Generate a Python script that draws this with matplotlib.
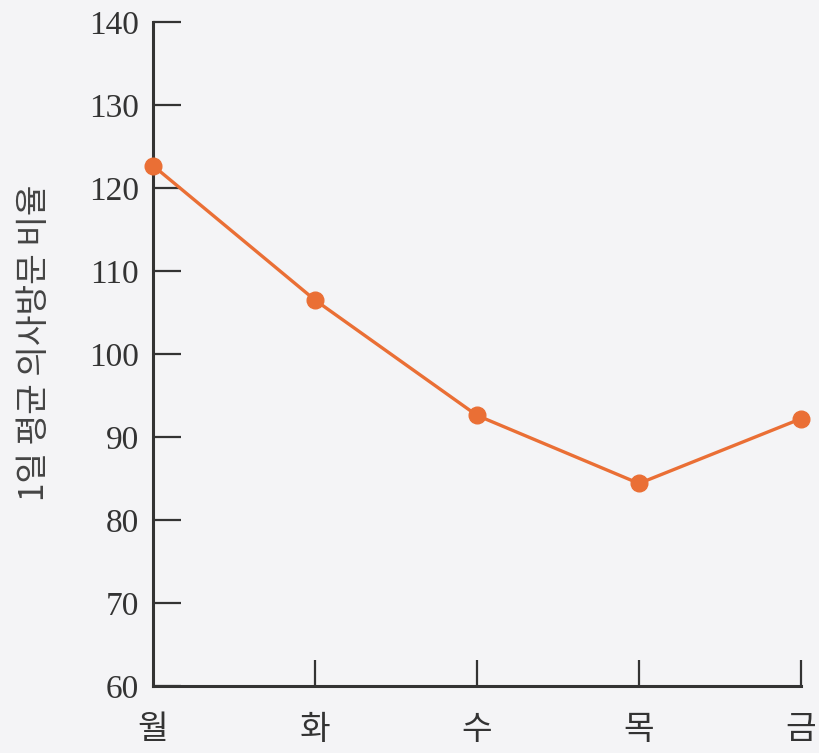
import matplotlib
matplotlib.use("Agg")
import matplotlib.pyplot as plt

# Data.
days = ["월", "화", "수", "목", "금"]
visit_ratio = [122.7, 106.5, 92.6, 84.4, 92.2]
y_ticks = [60, 70, 80, 90, 100, 110, 120, 130, 140]

bg = "#f4f4f6"
ink = "#333333"
orange = "#ea6f35"

plt.rcParams["font.family"] = ["Noto Sans CJK KR", "DejaVu Sans"]

fig = plt.figure(figsize=(8.19, 7.53), dpi=100, facecolor=bg)
ax = fig.add_axes([0.1868, 0.089, 0.7912, 0.8818])
ax.set_facecolor(bg)

x = list(range(len(days)))
ax.plot(x, visit_ratio, color=orange, linewidth=2.4, marker="o",
        markersize=12, markerfacecolor=orange, markeredgecolor=orange,
        clip_on=False, zorder=3)

ax.set_xlim(0, len(days) - 1)
ax.set_ylim(60, 140)

for side in ["top", "right"]:
    ax.spines[side].set_visible(False)
for side in ["left", "bottom"]:
    ax.spines[side].set_linewidth(2.2)
    ax.spines[side].set_color(ink)

ax.set_yticks(y_ticks)
ax.set_yticklabels([str(v) for v in y_ticks], family="Liberation Serif",
                   fontsize=24, color=ink)
ax.set_xticks(x)
ax.set_xticklabels(days, fontsize=24, color=ink)

ax.tick_params(axis="y", direction="in", length=20, width=1.6, color=ink, pad=10)
ax.tick_params(axis="x", direction="in", length=19, width=1.6, color=ink, pad=19)
# no inward tick at the origin for the x axis
ax.xaxis.get_major_ticks()[0].tick1line.set_visible(False)

ax.set_ylabel("1일 평균 의사방문 비율", fontsize=24, color="#444444")
ax.yaxis.set_label_coords(-0.156, 0.517)

fig.savefig("out.png", dpi=100, facecolor=bg)
